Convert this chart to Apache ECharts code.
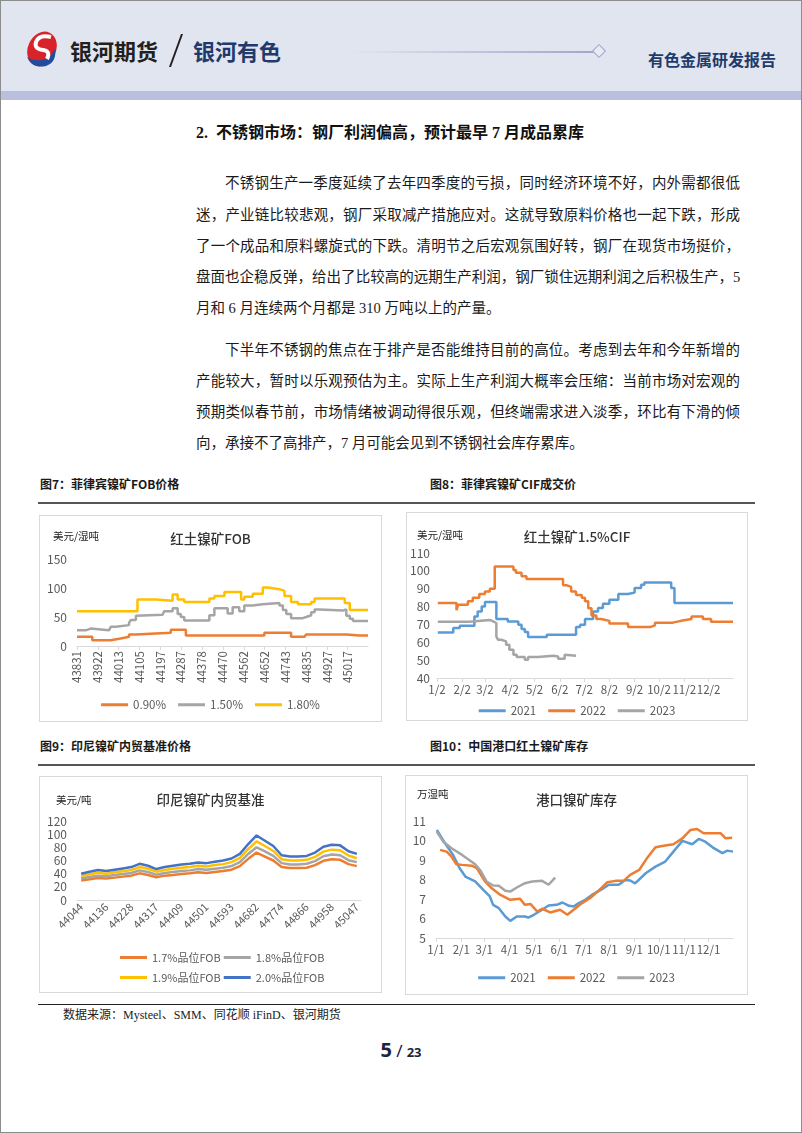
<!DOCTYPE html>
<html><head><meta charset="utf-8">
<script src="https://cdn.jsdelivr.net/npm/echarts@6/dist/echarts.min.js"></script>
<style>
html,body{margin:0;padding:0;background:#fff;}
#page{position:relative;width:802px;height:1133px;overflow:hidden;background:#fff;font-family:"Liberation Serif","Noto Sans CJK SC",serif;color:#1a1a1a;}
.a{position:absolute;}
.frame{left:0;top:0;width:802px;height:1133px;box-sizing:border-box;border:1px solid #8c8c8c;pointer-events:none;}
.ln{position:absolute;font-size:14.5px;line-height:18px;height:18px;white-space:nowrap;text-align:justify;text-align-last:justify;}
.ln.last{text-align:left;text-align-last:left;}
.fig{position:absolute;font-family:"Noto Sans CJK SC",sans-serif;font-weight:700;font-size:12px;line-height:16px;color:#1a1a1a;}
.rule{position:absolute;height:1.5px;background:#555;}
.chart{position:absolute;box-sizing:border-box;border:1px solid #d9d9d9;}
</style>
</head><body>
<div id="page">
  <div class="a" style="left:0;top:0;width:802px;height:91px;background:#e1e5ef;"></div>
  <div class="a" style="left:0;top:91px;width:802px;height:9px;background:#b9bfdc;"></div>
  <svg class="a" style="left:22px;top:30px" width="40" height="40" viewBox="0 0 40 40">
    <ellipse cx="20" cy="19" rx="14" ry="18" transform="rotate(25 20 19)" fill="#d8232a"/>
    <path d="M5,27 Q10,39 24,36 Q35,32 33,19 Q28,29 19,30 Q11,31 5,27Z" fill="#1f4e9d"/>
    <path d="M29,7 Q17,4 14,12 Q12,19 21,20 Q29,21 25,29" stroke="#fff" stroke-width="4" fill="none"/>
  </svg>
  <div class="a" style="left:70px;top:36px;font-family:'Noto Sans CJK SC';font-weight:700;font-size:22px;line-height:28px;color:#231f20;">银河期货</div>
  <div class="a" style="left:175px;top:34px;width:1.5px;height:33px;background:#231f20;transform:skewX(-20deg);"></div>
  <div class="a" style="left:193px;top:36px;font-family:'Noto Sans CJK SC';font-weight:700;font-size:22px;line-height:28px;color:#1f3a6b;">银河有色</div>
  <div class="a" style="left:350px;top:51px;width:244px;height:1.5px;background:linear-gradient(to right,rgba(160,168,205,0),#9ea7cc);"></div>
  <div class="a" style="left:594px;top:46px;width:8px;height:8px;border:1px solid #9aa3c8;background:#e8ebf4;transform:rotate(45deg);"></div>
  <div class="a" style="left:648px;top:48px;font-family:'Noto Sans CJK SC';font-weight:700;font-size:16px;line-height:22px;color:#1f3a6b;">有色金属研发报告</div>

  <div class="a" style="left:196px;top:123px;font-size:16px;font-weight:700;line-height:20px;color:#111;">2.&nbsp; 不锈钢市场：钢厂利润偏高，预计最早 7 月成品累库</div>

  <div class="ln" style="left:225px;top:174px;width:515px;">不锈钢生产一季度延续了去年四季度的亏损，同时经济环境不好，内外需都很低</div>
  <div class="ln" style="left:196px;top:206px;width:544px;">迷，产业链比较悲观，钢厂采取减产措施应对。这就导致原料价格也一起下跌，形成</div>
  <div class="ln" style="left:196px;top:237px;width:544px;">了一个成品和原料螺旋式的下跌。清明节之后宏观氛围好转，钢厂在现货市场挺价，</div>
  <div class="ln" style="left:196px;top:268px;width:544px;letter-spacing:-0.2px;">盘面也企稳反弹，给出了比较高的远期生产利润，钢厂锁住远期利润之后积极生产，5</div>
  <div class="ln last" style="left:196px;top:299px;">月和 6 月连续两个月都是 310 万吨以上的产量。</div>

  <div class="ln" style="left:225px;top:341px;width:515px;">下半年不锈钢的焦点在于排产是否能维持目前的高位。考虑到去年和今年新增的</div>
  <div class="ln" style="left:196px;top:372px;width:544px;">产能较大，暂时以乐观预估为主。实际上生产利润大概率会压缩：当前市场对宏观的</div>
  <div class="ln" style="left:196px;top:403px;width:544px;">预期类似春节前，市场情绪被调动得很乐观，但终端需求进入淡季，环比有下滑的倾</div>
  <div class="ln last" style="left:196px;top:434px;">向，承接不了高排产，7 月可能会见到不锈钢社会库存累库。</div>

  <div class="fig" style="left:40px;top:476px;">图7：菲律宾镍矿FOB价格</div>
  <div class="fig" style="left:430px;top:476px;">图8：菲律宾镍矿CIF成交价</div>
  <div class="rule" style="left:38px;top:502px;width:717px;"></div>
  <div class="fig" style="left:40px;top:738px;">图9：印尼镍矿内贸基准价格</div>
  <div class="fig" style="left:430px;top:738px;">图10：中国港口红土镍矿库存</div>
  <div class="rule" style="left:38px;top:764px;width:717px;"></div>

  <div id="c7" class="chart" style="left:39px;top:515px;width:343px;height:207px;"></div>
  <div id="c8" class="chart" style="left:406px;top:512px;width:342px;height:209px;"></div>
  <div id="c9" class="chart" style="left:39px;top:776px;width:343px;height:217px;"></div>
  <div id="c10" class="chart" style="left:405px;top:775px;width:343px;height:220px;"></div>

  <div class="rule" style="left:38px;top:1004px;width:717px;background:#222;height:1px;"></div>
  <div class="a" style="left:63px;top:1007px;font-size:12px;line-height:16px;color:#222;">数据来源：Mysteel、SMM、同花顺 iFinD、银河期货</div>
  <div class="a" style="left:0;top:1038px;width:802px;text-align:center;font-family:'Liberation Sans Narrow','Noto Sans',sans-serif;font-weight:700;color:#1b2440;line-height:24px;"><span style="font-size:20px;">5</span> <span style="font-size:17px;font-weight:400;">/</span> <span style="font-size:13px;">23</span></div>
  <div class="a frame"></div>
</div>
<script>
// ---------- Figure 7: 红土镍矿FOB (Excel date serials) ----------
const fobTicks = [43831,43922,44013,44105,44197,44287,44378,44470,44562,44652,44743,44835,44927,45017];
const fob090 = [[43831,16],[43898,10],[43979,13],[44022,16],[44059,20],[44089,23],[44242,28],[44308,18],[44652,23],[44769,16],[44828,18],[44835,20],[45011,18],[45069,15],[45075,18],[45106,18]];
const fob150 = [[43831,27],[43869,30],[43891,27],[43971,29],[43979,33],[44001,36],[44059,40],[44067,45],[44089,52],[44096,54],[44206,56],[44213,60],[44250,65],[44272,55],[44286,50],[44301,44],[44411,53],[44433,65],[44491,56],[44513,67],[44542,60],[44564,70],[44601,72],[44645,74],[44718,70],[44733,62],[44748,55],[44769,48],[44820,50],[44835,53],[44857,58],[44872,63],[44894,61],[44996,63],[45011,52],[45026,47],[45040,43],[45106,43]];
const fob180 = [[43831,60],[44096,80],[44177,78],[44250,89],[44272,80],[44301,76],[44411,82],[44433,86],[44477,93],[44550,80],[44564,85],[44601,90],[44645,101],[44667,98],[44718,95],[44740,86],[44769,76],[44799,72],[44857,76],[44872,82],[45004,74],[45026,62],[45106,62]];

// ---------- Figure 8: 红土镍矿1.5%CIF (day of year) ----------
const cifTickDays = [0,31,59,90,120,151,181,212,243,273,304,334];
const cifTickLabels = ['1/2','2/2','3/2','4/2','5/2','6/2','7/2','8/2','9/2','10/2','11/2','12/2'];
const cif2021 = [[1,65.5],[20,68],[28,69.3],[46,74.5],[50,77.3],[55,80],[59,82.5],[73,73],[87,71.7],[100,69.8],[104,67.4],[108,65.7],[112,63],[135,64.2],[171,68.5],[176,69.8],[182,73],[192,77.3],[198,79.2],[204,81.6],[212,83.8],[223,87],[235,87.8],[243,90.4],[251,92.2],[255,93.5],[288,90.4],[292,82],[364,82]];
const cif2022 = [[1,82],[24,78],[26,81],[38,83],[44,85],[52,87],[59,88.5],[65,90],[71,102.5],[94,100.5],[97,99],[104,97],[110,95.5],[155,92],[159,91],[165,88.5],[171,86.5],[178,85],[182,83],[186,79],[190,75],[196,73],[202,72],[212,70.5],[235,68.5],[262,69.5],[268,71],[290,72],[300,73],[313,74.5],[327,73],[337,71.5],[364,71.5]];
const cif2023 = [[1,71.5],[40,72.5],[65,71.7],[69,70.8],[73,63.3],[75,61.4],[79,60.5],[85,58.6],[89,55.8],[94,53],[98,51.7],[108,50.2],[112,51.7],[124,52.5],[143,52],[149,50.8],[157,53],[159,52.5],[171,52.5]];

// ---------- Figure 9: 印尼镍矿内贸基准 (monthly, Excel serials) ----------
const hpmMonths = ['44044','44075','44105','44136','44166','44197','44228','44256','44287','44317','44348','44378','44409','44440','44470','44501','44531','44562','44593','44621','44652','44682','44713','44743','44774','44805','44835','44866','44896','44927','44958','44986','45017','45047'];
const hpm17 = [29.5,31.5,33.5,32.5,34,35.5,37,40.5,38,34.5,37,38,39.5,40.5,42,41,42.5,44,46,51.5,62.5,72,66,60,50,48.5,48.5,49,53,59.5,62,61,54.5,51.5];
const hpm18 = [33,35,37,36,38,39.5,41,45,42.5,38.5,41,42.5,44,45,47,46,47.5,49,51.5,57.5,70,80,74,67,56,54,54,55,59,66.5,69,68,60.5,57.5];
const hpm19 = [36.5,39,41.5,40,42,43.5,45.5,50,47.5,43,45.5,47.5,49,50,52,51,53,54.5,57.5,64,77.5,89,82,74.5,62,60,60,61,65.5,73.5,76.5,75.5,67.5,63.5];
const hpm20 = [40,43,45.5,44,46,48,50,55,52,47,50,52,54,55,57,56,58,60,63,70,85,98,90,82,68,66,66,67,72,81,84,83,74,70];

// ---------- Figure 10: 港口镍矿库存 (day of year) ----------
const invTickDays = [0,31,59,90,120,151,181,212,243,273,304,334];
const invTickLabels = ['1/1','2/1','3/1','4/1','5/1','6/1','7/1','8/1','9/1','10/1','11/1','12/1'];
const inv2021 = [[1,10.54],[11,9.86],[21,9.26],[29,8.58],[36,8.15],[48,7.9],[58,7.47],[66,7.13],[70,6.7],[77,6.53],[85,6.1],[91,5.88],[99,6.1],[109,6.1],[113,6.05],[120,6.19],[130,6.45],[138,6.67],[148,6.7],[155,6.82],[163,6.65],[169,6.62],[175,6.79],[183,6.96],[191,7.21],[202,7.47],[212,7.73],[224,7.73],[232,7.98],[238,7.95],[244,7.8],[257,8.32],[269,8.66],[281,8.92],[291,9.43],[302,9.98],[314,9.81],[322,10.08],[330,9.94],[339,9.65],[351,9.35],[357,9.48],[364,9.43]];
const inv2022 = [[5,9.52],[13,9.43],[19,9.17],[25,8.78],[32,8.75],[44,8.71],[50,8.58],[60,7.9],[68,7.56],[79,7.21],[91,6.96],[103,7.01],[109,6.7],[116,6.74],[124,6.36],[130,6.5],[140,6.31],[152,6.45],[161,6.19],[171,6.53],[179,6.79],[189,7.05],[199,7.42],[210,7.86],[220,7.93],[230,7.93],[238,8.24],[249,8.49],[259,9.12],[269,9.65],[281,9.74],[291,9.81],[302,10.11],[312,10.54],[320,10.59],[328,10.37],[339,10.37],[349,10.37],[355,10.11],[363,10.14]];
const inv2023 = [[1,10.45],[9,9.94],[19,9.6],[32,9.26],[48,8.78],[54,8.49],[62,7.9],[70,7.69],[77,7.68],[85,7.42],[91,7.38],[99,7.59],[109,7.81],[118,7.9],[130,7.93],[138,7.73],[146,8.1]];

const F = '"Noto Sans CJK SC","Noto Sans",sans-serif';
const C = {blue:'#5B9BD5', orange:'#ED7D31', gray:'#A5A5A5', yellow:'#FFC000', dblue:'#4472C4'};
const axisGray = '#d9d9d9', labGray = '#595959';

function title(text, top){ return {text, left:'center', top, textStyle:{fontSize:13.5, fontWeight:500, color:'#333', fontFamily:F}}; }
function unit(text, left, top){ return [{type:'text', left, top, style:{text, fontSize:10.5, fill:'#222', fontFamily:F}}]; }
function legend(top, data, extra){ return Object.assign({top, left:'center', icon:'rect', itemWidth:27, itemHeight:3, itemGap:12, textStyle:{color:labGray, fontSize:11.5, fontFamily:F}, data}, extra||{}); }
function line(name, data, color, step){ return {type:'line', name, data, step: step||false, showSymbol:false, symbol:'none', lineStyle:{width:2.5, color}, itemStyle:{color}, emphasis:{disabled:true}}; }
function yAx(min,max,interval,margin){ return {type:'value', min, max, interval, splitLine:{show:false}, axisLine:{show:false}, axisTick:{show:false}, axisLabel:{color:labGray, fontSize:12, margin, fontFamily:F}}; }

const c7 = echarts.init(document.getElementById('c7'));
c7.setOption({
  animation:false,
  title: title('红土镍矿FOB', 11),
  graphic: unit('美元/湿吨', 13, 15),
  grid:{left:37, right:13, top:43, bottom:75},
  xAxis:{type:'value', min:43831, max:45106, splitLine:{show:false},
    axisLine:{lineStyle:{color:axisGray}},
    axisTick:{customValues:fobTicks, length:4, lineStyle:{color:axisGray}},
    axisLabel:{customValues:fobTicks, hideOverlap:false, rotate:90, color:labGray, fontSize:11.5, margin:5, fontFamily:F, formatter:v=>String(v)}},
  yAxis: yAx(0,150,50,10),
  legend: legend(178, ['0.90%','1.50%','1.80%']),
  series:[line('0.90%',fob090,C.orange,'end'), line('1.50%',fob150,C.gray,'end'), line('1.80%',fob180,C.yellow,'end')]
});

const c8 = echarts.init(document.getElementById('c8'));
c8.setOption({
  animation:false,
  title: title('红土镍矿1.5%CIF', 12),
  graphic: unit('美元/湿吨', 10, 17),
  grid:{left:30, right:14, top:40, bottom:42},
  xAxis:{type:'value', min:0, max:364, splitLine:{show:false},
    axisLine:{lineStyle:{color:axisGray}},
    axisTick:{customValues:cifTickDays, length:4, lineStyle:{color:axisGray}},
    axisLabel:{customValues:cifTickDays, hideOverlap:false, showMaxLabel:true, color:labGray, fontSize:11.5, margin:6, fontFamily:F, formatter:v=>cifTickLabels[cifTickDays.indexOf(v)]}},
  yAxis: yAx(40,110,10,7),
  legend: legend(187, ['2021','2022','2023']),
  series:[line('2021',cif2021,C.blue,'end'), line('2022',cif2022,C.orange,'end'), line('2023',cif2023,C.gray,'end')]
});

const c9 = echarts.init(document.getElementById('c9'));
const lg9 = {left:75, itemGap:3, textStyle:{color:labGray, fontSize:11, fontFamily:F}};
c9.setOption({
  animation:false,
  title: title('印尼镍矿内贸基准', 11),
  graphic: unit('美元/吨', 16, 18),
  grid:{left:37, right:20, top:44, bottom:92},
  xAxis:{type:'category', data:hpmMonths, boundaryGap:true,
    axisLine:{lineStyle:{color:axisGray}}, axisTick:{show:false},
    axisLabel:{interval:2, rotate:45, color:labGray, fontSize:11, margin:5, fontFamily:F}},
  yAxis: yAx(0,120,20,10),
  legend:[legend(170, ['1.7%品位FOB','1.8%品位FOB'], lg9), legend(190, ['1.9%品位FOB','2.0%品位FOB'], lg9)],
  series:[line('1.7%品位FOB',hpm17,C.orange), line('1.8%品位FOB',hpm18,C.gray), line('1.9%品位FOB',hpm19,C.yellow), line('2.0%品位FOB',hpm20,C.dblue)]
});

const c10 = echarts.init(document.getElementById('c10'));
c10.setOption({
  animation:false,
  title: title('港口镍矿库存', 12),
  graphic: unit('万湿吨', 11, 13),
  grid:{left:30, right:14, top:45, bottom:56},
  xAxis:{type:'value', min:0, max:364, splitLine:{show:false},
    axisLine:{lineStyle:{color:axisGray}},
    axisTick:{customValues:invTickDays, length:4, lineStyle:{color:axisGray}},
    axisLabel:{customValues:invTickDays, hideOverlap:false, showMaxLabel:true, color:labGray, fontSize:11.5, margin:6, fontFamily:F, formatter:v=>invTickLabels[invTickDays.indexOf(v)]}},
  yAxis: yAx(5,11,1,10),
  legend: legend(191, ['2021','2022','2023']),
  series:[line('2021',inv2021,C.blue), line('2022',inv2022,C.orange), line('2023',inv2023,C.gray)]
});
</script>
</body></html>
